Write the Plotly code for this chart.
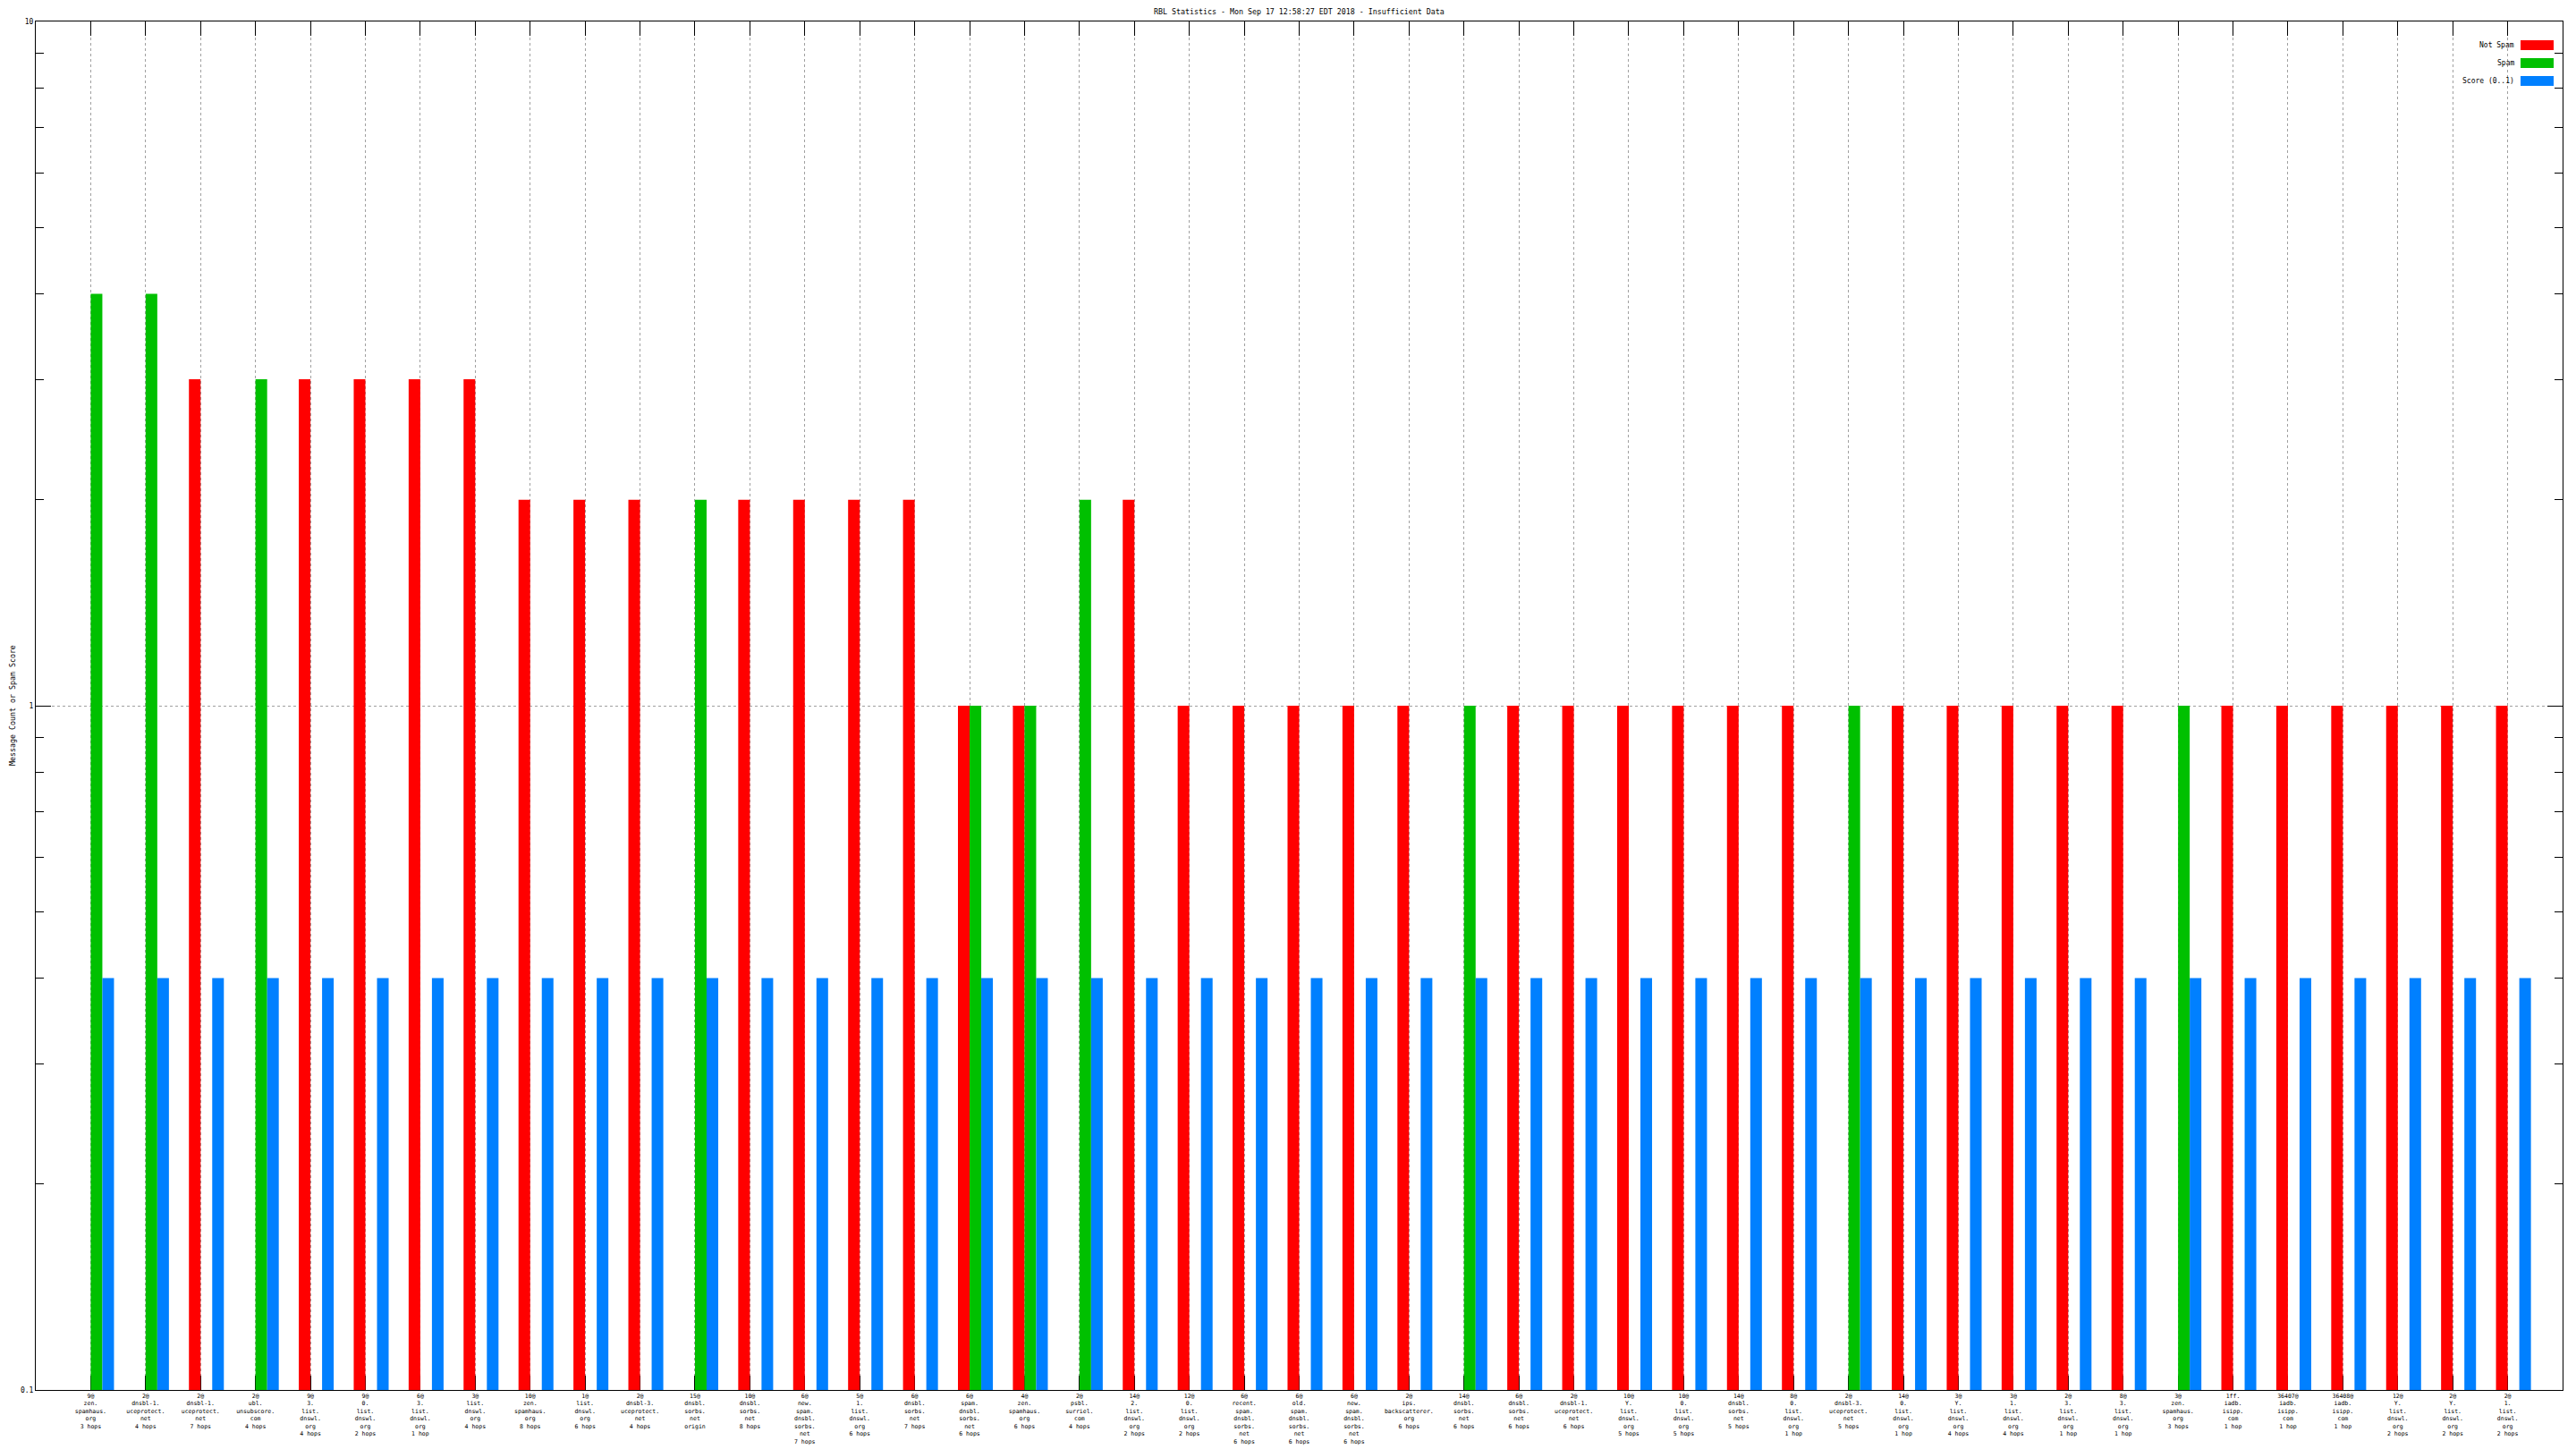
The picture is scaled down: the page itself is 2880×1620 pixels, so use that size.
import plotly.graph_objects as go

# ---------------- data ----------------
labels = [
    "9@|zen.|spamhaus.|org|3 hops",
    "2@|dnsbl-1.|uceprotect.|net|4 hops",
    "2@|dnsbl-1.|uceprotect.|net|7 hops",
    "2@|ubl.|unsubscore.|com|4 hops",
    "9@|3.|list.|dnswl.|org|4 hops",
    "9@|0.|list.|dnswl.|org|2 hops",
    "6@|3.|list.|dnswl.|org|1 hop",
    "3@|list.|dnswl.|org|4 hops",
    "10@|zen.|spamhaus.|org|8 hops",
    "1@|list.|dnswl.|org|6 hops",
    "2@|dnsbl-3.|uceprotect.|net|4 hops",
    "15@|dnsbl.|sorbs.|net|origin",
    "10@|dnsbl.|sorbs.|net|8 hops",
    "6@|new.|spam.|dnsbl.|sorbs.|net|7 hops",
    "5@|1.|list.|dnswl.|org|6 hops",
    "6@|dnsbl.|sorbs.|net|7 hops",
    "6@|spam.|dnsbl.|sorbs.|net|6 hops",
    "4@|zen.|spamhaus.|org|6 hops",
    "2@|psbl.|surriel.|com|4 hops",
    "14@|2.|list.|dnswl.|org|2 hops",
    "12@|0.|list.|dnswl.|org|2 hops",
    "6@|recent.|spam.|dnsbl.|sorbs.|net|6 hops",
    "6@|old.|spam.|dnsbl.|sorbs.|net|6 hops",
    "6@|new.|spam.|dnsbl.|sorbs.|net|6 hops",
    "2@|ips.|backscatterer.|org|6 hops",
    "14@|dnsbl.|sorbs.|net|6 hops",
    "6@|dnsbl.|sorbs.|net|6 hops",
    "2@|dnsbl-1.|uceprotect.|net|6 hops",
    "10@|Y.|list.|dnswl.|org|5 hops",
    "10@|0.|list.|dnswl.|org|5 hops",
    "14@|dnsbl.|sorbs.|net|5 hops",
    "8@|0.|list.|dnswl.|org|1 hop",
    "2@|dnsbl-3.|uceprotect.|net|5 hops",
    "14@|0.|list.|dnswl.|org|1 hop",
    "3@|Y.|list.|dnswl.|org|4 hops",
    "3@|1.|list.|dnswl.|org|4 hops",
    "2@|3.|list.|dnswl.|org|1 hop",
    "8@|3.|list.|dnswl.|org|1 hop",
    "3@|zen.|spamhaus.|org|3 hops",
    "1ff.|iadb.|isipp.|com|1 hop",
    "36407@|iadb.|isipp.|com|1 hop",
    "36408@|iadb.|isipp.|com|1 hop",
    "12@|Y.|list.|dnswl.|org|2 hops",
    "2@|Y.|list.|dnswl.|org|2 hops",
    "2@|1.|list.|dnswl.|org|2 hops",
]

not_spam = [None, None, 3, None, 3, 3, 3, 3, 2, 2,
            2, None, 2, 2, 2, 2, 1, 1, None, 2,
            1, 1, 1, 1, 1, None, 1, 1, 1, 1,
            1, 1, None, 1, 1, 1, 1, 1, None, 1,
            1, 1, 1, 1, 1]

spam = [4, 4, None, 3, None, None, None, None, None, None,
        None, 2, None, None, None, None, 1, 1, 2, None,
        None, None, None, None, None, 1, None, None, None, None,
        None, None, 1, None, None, None, None, None, 1, None,
        None, None, None, None, None]

score = [0.4, 0.4, 0.4, 0.4, 0.4, 0.4, 0.4, 0.4, 0.4, 0.4,
         0.4, 0.4, 0.4, 0.4, 0.4, 0.4, 0.4, 0.4, 0.4, 0.4,
         0.4, 0.4, 0.4, 0.4, 0.4, 0.4, 0.4, 0.4, 0.4, 0.4,
         0.4, 0.4, 0.4, 0.4, 0.4, 0.4, 0.4, 0.4, 0.4, 0.4,
         0.4, 0.4, 0.4, 0.4, 0.4]

y_tick_vals = [0.1, 1, 10]
y_tick_text = ["0.1", "1", "10"]
y_minor_vals = [0.2, 0.3, 0.4, 0.5, 0.6, 0.7, 0.8, 0.9, 2, 3, 4, 5, 6, 7, 8, 9]

series_names = ["Not Spam", "Spam", "Score (0..1)"]
series_colors = ["#ff0000", "#00c000", "#0080ff"]

title_text = "RBL Statistics - Mon Sep 17 12:58:27 EDT 2018 - Insufficient Data"
y_title = "Message Count or Spam Score"

# ---------------- figure ----------------
# the page body has an 8px margin, so the figure is offset by 8px
OFF = 8
W, H = 2880 - OFF, 1620 - OFF
ML, MR, MT, MB = 40 - OFF, 15, 24 - OFF, 66
PW, PH = W - ML - MR, H - MT - MB

x = list(range(1, len(labels) + 1))
ticktext = [s.replace("|", "<br>") for s in labels]
FONT = "DejaVu Sans Mono"

bw = 0.212
fig = go.Figure()
for vals, name, col, off in zip([not_spam, spam, score], series_names, series_colors, [-bw, 0, bw]):
    fig.add_trace(go.Bar(x=x, y=vals, name=name, marker_color=col, marker_line_width=0,
                         width=bw, offset=off))

fig.update_layout(
    width=W, height=H,
    margin=dict(l=ML, r=MR, t=MT, b=MB, autoexpand=False),
    paper_bgcolor="white", plot_bgcolor="white",
    barmode="overlay", showlegend=False,
    font=dict(family=FONT, size=8, color="black"),
)

fig.update_xaxes(
    range=[0, len(labels) + 1], tickmode="array", tickvals=x, ticktext=ticktext,
    ticks="inside", ticklen=16, tickcolor="black", tickwidth=1,
    showline=True, linecolor="black", linewidth=1, mirror="ticks",
    showgrid=True, gridcolor="#a0a0a0", griddash="dot", gridwidth=1,
    zeroline=False, tickfont=dict(family=FONT, size=6.5, color="black"),
    tickangle=0, layer="below traces", automargin=False, ticklabelstandoff=0,
)

fig.update_yaxes(
    type="log", range=[-1, 1], tickmode="array", tickvals=y_tick_vals, ticktext=y_tick_text,
    ticks="inside", ticklen=17, tickcolor="black", tickwidth=1,
    showline=True, linecolor="black", linewidth=1, mirror="ticks",
    showgrid=True, gridcolor="#a0a0a0", griddash="dot", gridwidth=1,
    zeroline=False, tickfont=dict(family=FONT, size=8, color="black"),
    automargin=False,
    minor=dict(tickmode="array", tickvals=y_minor_vals, ticks="inside", ticklen=9,
               tickcolor="black", tickwidth=1, showgrid=False),
)

def px_x(p):
    return (p - OFF - ML) / PW

def px_y(p):
    return (H - MB - (p - OFF)) / PH

annotations = [
    dict(text=title_text, xref="paper", yref="paper", x=0.5, y=1, yshift=11,
         xanchor="center", yanchor="middle", showarrow=False,
         font=dict(family=FONT, size=8.3, color="black")),
    dict(text=y_title, xref="paper", yref="paper", x=0, y=0.5, xshift=-26,
         xanchor="center", yanchor="middle", textangle=-90, showarrow=False,
         font=dict(family=FONT, size=8.3, color="black")),
]
shapes = []
for i, (name, col) in enumerate(zip(series_names, series_colors)):
    top = 45 + 20 * i
    annotations.append(dict(text=name, xref="paper", yref="paper", x=px_x(2813), y=px_y(top + 5.5),
                            xanchor="right", yanchor="middle", showarrow=False,
                            font=dict(family=FONT, size=8, color="black")))
    shapes.append(dict(type="rect", xref="paper", yref="paper",
                       x0=px_x(2818), x1=px_x(2855), y0=px_y(top + 11), y1=px_y(top),
                       fillcolor=col, line=dict(width=0)))

fig.update_layout(annotations=annotations, shapes=shapes)

fig.write_html("out.html")
